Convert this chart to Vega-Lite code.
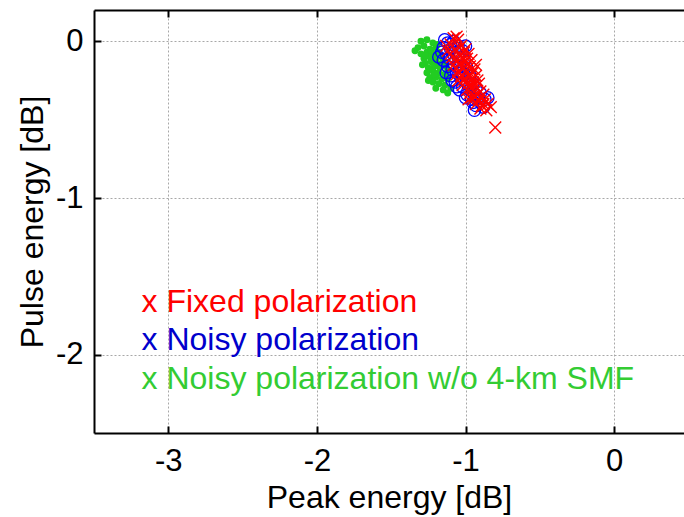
{
  "$schema": "https://vega.github.io/schema/vega-lite/v6.json",
  "width": 590,
  "height": 423,
  "autosize": {"type": "none"},
  "padding": {"left": 94, "top": 10, "right": 0, "bottom": 84},
  "config": {
    "view": {"stroke": null},
    "font": "Liberation Sans",
    "axis": {
      "domainColor": "black", "domainWidth": 2,
      "tickColor": "black", "tickWidth": 2, "tickSize": -7,
      "gridColor": "#a8a8a8", "gridDash": [2, 2], "gridWidth": 1,
      "labelFont": "Liberation Sans", "labelFontSize": 31, "labelColor": "black",
      "labelExpr": "toString(datum.value)",
      "titleFont": "Liberation Sans", "titleFontSize": 32, "titleColor": "black", "titleFontWeight": "normal"
    }
  },
  "datasets": {
    "nosmf": [
      {"peak": -1.3, "pulse": 0.0}, {"peak": -1.26, "pulse": 0.01}, {"peak": -1.22, "pulse": -0.01}, {"peak": -1.32, "pulse": -0.04},
      {"peak": -1.28, "pulse": -0.03}, {"peak": -1.24, "pulse": -0.05}, {"peak": -1.2, "pulse": -0.04}, {"peak": -1.3, "pulse": -0.08},
      {"peak": -1.26, "pulse": -0.07}, {"peak": -1.22, "pulse": -0.08}, {"peak": -1.18, "pulse": -0.07}, {"peak": -1.28, "pulse": -0.11},
      {"peak": -1.24, "pulse": -0.1}, {"peak": -1.2, "pulse": -0.11}, {"peak": -1.16, "pulse": -0.1}, {"peak": -1.27, "pulse": -0.14},
      {"peak": -1.23, "pulse": -0.13}, {"peak": -1.19, "pulse": -0.14}, {"peak": -1.15, "pulse": -0.13}, {"peak": -1.25, "pulse": -0.17},
      {"peak": -1.21, "pulse": -0.16}, {"peak": -1.17, "pulse": -0.17}, {"peak": -1.13, "pulse": -0.16}, {"peak": -1.26, "pulse": -0.2},
      {"peak": -1.22, "pulse": -0.19}, {"peak": -1.18, "pulse": -0.2}, {"peak": -1.14, "pulse": -0.21}, {"peak": -1.24, "pulse": -0.23},
      {"peak": -1.2, "pulse": -0.23}, {"peak": -1.16, "pulse": -0.24}, {"peak": -1.12, "pulse": -0.24}, {"peak": -1.22, "pulse": -0.26},
      {"peak": -1.18, "pulse": -0.27}, {"peak": -1.14, "pulse": -0.28}, {"peak": -1.2, "pulse": -0.3}, {"peak": -1.15, "pulse": -0.31},
      {"peak": -1.1, "pulse": -0.3}, {"peak": -1.23, "pulse": -0.12}, {"peak": -1.21, "pulse": -0.21}, {"peak": -1.29, "pulse": -0.15},
      {"peak": -1.25, "pulse": -0.25}, {"peak": -1.17, "pulse": -0.09}, {"peak": -1.34, "pulse": -0.06}, {"peak": -1.19, "pulse": -0.02},
      {"peak": -1.12, "pulse": -0.19}, {"peak": -1.27, "pulse": -0.09}, {"peak": -1.23, "pulse": -0.06}, {"peak": -1.16, "pulse": -0.15},
      {"peak": -1.12, "pulse": -0.33}
    ],
    "noisy": [
      {"peak": -1.14, "pulse": 0.01}, {"peak": -1.12, "pulse": -0.01}, {"peak": -1.08, "pulse": 0.0}, {"peak": -1.15, "pulse": -0.04},
      {"peak": -1.1, "pulse": -0.05}, {"peak": -1.05, "pulse": -0.03}, {"peak": -1.13, "pulse": -0.08}, {"peak": -1.07, "pulse": -0.07},
      {"peak": -1.02, "pulse": -0.06}, {"peak": -1.11, "pulse": -0.11}, {"peak": -1.05, "pulse": -0.1}, {"peak": -1.15, "pulse": -0.12},
      {"peak": -1.08, "pulse": -0.14}, {"peak": -1.01, "pulse": -0.12}, {"peak": -1.12, "pulse": -0.16}, {"peak": -1.04, "pulse": -0.16},
      {"peak": -1.09, "pulse": -0.18}, {"peak": -0.99, "pulse": -0.17}, {"peak": -1.06, "pulse": -0.2}, {"peak": -1.01, "pulse": -0.21},
      {"peak": -1.1, "pulse": -0.22}, {"peak": -1.03, "pulse": -0.24}, {"peak": -0.97, "pulse": -0.22}, {"peak": -1.07, "pulse": -0.26},
      {"peak": -0.99, "pulse": -0.26}, {"peak": -1.02, "pulse": -0.29}, {"peak": -0.95, "pulse": -0.27}, {"peak": -1.04, "pulse": -0.31},
      {"peak": -0.97, "pulse": -0.31}, {"peak": -0.93, "pulse": -0.3}, {"peak": -0.99, "pulse": -0.34}, {"peak": -0.94, "pulse": -0.34},
      {"peak": -0.9, "pulse": -0.33}, {"peak": -0.96, "pulse": -0.37}, {"peak": -0.91, "pulse": -0.38}, {"peak": -0.87, "pulse": -0.37},
      {"peak": -0.93, "pulse": -0.41}, {"peak": -0.88, "pulse": -0.42}, {"peak": -1.13, "pulse": -0.2}, {"peak": -1.09, "pulse": -0.25},
      {"peak": -1.06, "pulse": -0.29}, {"peak": -1.0, "pulse": -0.36}, {"peak": -0.94, "pulse": -0.44}, {"peak": -1.1, "pulse": -0.02},
      {"peak": -1.16, "pulse": -0.07}, {"peak": -1.04, "pulse": -0.19}, {"peak": -0.95, "pulse": -0.39}, {"peak": -0.85, "pulse": -0.36},
      {"peak": -1.18, "pulse": -0.1}, {"peak": -1.0, "pulse": -0.03}
    ],
    "fixed": [
      {"peak": -1.08, "pulse": 0.02}, {"peak": -1.05, "pulse": 0.01}, {"peak": -1.1, "pulse": -0.02}, {"peak": -1.03, "pulse": -0.03},
      {"peak": -1.07, "pulse": -0.05}, {"peak": -1.12, "pulse": -0.06}, {"peak": -1.0, "pulse": -0.05}, {"peak": -1.05, "pulse": -0.08},
      {"peak": -1.09, "pulse": -0.1}, {"peak": -1.02, "pulse": -0.1}, {"peak": -0.98, "pulse": -0.08}, {"peak": -1.06, "pulse": -0.12},
      {"peak": -1.0, "pulse": -0.13}, {"peak": -1.04, "pulse": -0.15}, {"peak": -0.96, "pulse": -0.12}, {"peak": -1.08, "pulse": -0.15},
      {"peak": -1.01, "pulse": -0.17}, {"peak": -0.97, "pulse": -0.16}, {"peak": -1.05, "pulse": -0.19}, {"peak": -0.99, "pulse": -0.2},
      {"peak": -0.94, "pulse": -0.18}, {"peak": -1.03, "pulse": -0.22}, {"peak": -0.97, "pulse": -0.22}, {"peak": -1.0, "pulse": -0.24},
      {"peak": -0.93, "pulse": -0.22}, {"peak": -1.05, "pulse": -0.25}, {"peak": -0.98, "pulse": -0.27}, {"peak": -0.95, "pulse": -0.26},
      {"peak": -1.02, "pulse": -0.28}, {"peak": -0.91, "pulse": -0.27}, {"peak": -0.96, "pulse": -0.3}, {"peak": -0.99, "pulse": -0.31},
      {"peak": -0.93, "pulse": -0.31}, {"peak": -0.97, "pulse": -0.33}, {"peak": -0.9, "pulse": -0.32}, {"peak": -0.94, "pulse": -0.35},
      {"peak": -0.88, "pulse": -0.34}, {"peak": -0.95, "pulse": -0.37}, {"peak": -0.91, "pulse": -0.38}, {"peak": -0.87, "pulse": -0.37},
      {"peak": -0.93, "pulse": -0.4}, {"peak": -0.89, "pulse": -0.41}, {"peak": -0.85, "pulse": -0.4}, {"peak": -0.9, "pulse": -0.43},
      {"peak": -0.86, "pulse": -0.44}, {"peak": -0.83, "pulse": -0.42}, {"peak": -0.8, "pulse": -0.55}, {"peak": -1.1, "pulse": -0.08},
      {"peak": -1.07, "pulse": -0.11}, {"peak": -1.01, "pulse": -0.07}, {"peak": -0.99, "pulse": -0.11}, {"peak": -1.03, "pulse": -0.13},
      {"peak": -0.95, "pulse": -0.2}, {"peak": -1.0, "pulse": -0.19}, {"peak": -0.96, "pulse": -0.24}, {"peak": -0.92, "pulse": -0.25},
      {"peak": -1.02, "pulse": -0.25}, {"peak": -0.97, "pulse": -0.29}, {"peak": -0.94, "pulse": -0.28}, {"peak": -0.92, "pulse": -0.34},
      {"peak": -0.9, "pulse": -0.36}, {"peak": -0.96, "pulse": -0.36}, {"peak": -0.88, "pulse": -0.4}, {"peak": -1.04, "pulse": -0.04},
      {"peak": -1.13, "pulse": -0.03}, {"peak": -1.06, "pulse": 0.03}, {"peak": -0.99, "pulse": -0.15}, {"peak": -0.93, "pulse": -0.15},
      {"peak": -1.06, "pulse": -0.21}, {"peak": -0.98, "pulse": -0.37}
    ],
    "legend": [
      {"series": "Fixed polarization", "label": "x Fixed polarization", "peak": -3.18, "pulse": -1.728},
      {"series": "Noisy polarization", "label": "x Noisy polarization", "peak": -3.18, "pulse": -1.973},
      {"series": "Noisy polarization w/o 4-km SMF", "label": "x Noisy polarization w/o 4-km SMF", "peak": -3.18, "pulse": -2.219}
    ]
  },
  "resolve": {"axis": {"x": "independent", "y": "independent"}},
  "layer": [
    {
      "data": {"name": "nosmf"},
      "mark": {"type": "point", "shape": "circle", "filled": true, "size": 48, "color": "#22cc22", "opacity": 1},
      "encoding": {
        "x": {"field": "peak", "type": "quantitative", "scale": {"domain": [-3.5, 0.47], "nice": false, "zero": false},
              "axis": {"orient": "bottom", "values": [-3, -2, -1, 0], "title": "Peak energy [dB]", "labelPadding": 20, "titlePadding": 6}},
        "y": {"field": "pulse", "type": "quantitative", "scale": {"domain": [-2.5, 0.2], "nice": false, "zero": false},
              "axis": {"orient": "left", "values": [-2, -1, 0], "title": "Pulse energy [dB]", "labelPadding": 18, "titlePadding": 6}}
      }
    },
    {
      "data": {"name": "noisy"},
      "mark": {"type": "point", "shape": "circle", "filled": false, "size": 150, "color": "#0000ff", "strokeWidth": 1.3, "opacity": 1},
      "encoding": {
        "x": {"field": "peak", "type": "quantitative", "axis": null},
        "y": {"field": "pulse", "type": "quantitative", "axis": null}
      }
    },
    {
      "data": {"name": "fixed"},
      "mark": {"type": "point", "shape": "M-1,-1L1,1M-1,1L1,-1", "filled": false, "size": 140, "color": "#ff0000", "strokeWidth": 1.4, "opacity": 1},
      "encoding": {
        "x": {"field": "peak", "type": "quantitative",
              "axis": {"orient": "top", "values": [-3, -2, -1, 0], "labels": false, "title": null, "grid": false}},
        "y": {"field": "pulse", "type": "quantitative", "axis": null}
      }
    },
    {
      "data": {"name": "legend"},
      "mark": {"type": "text", "align": "left", "baseline": "alphabetic", "fontSize": 32, "font": "Liberation Sans"},
      "encoding": {
        "x": {"field": "peak", "type": "quantitative", "axis": null},
        "y": {"field": "pulse", "type": "quantitative", "axis": null},
        "text": {"field": "label"},
        "color": {"field": "series", "type": "nominal", "legend": null,
                  "scale": {"domain": ["Fixed polarization", "Noisy polarization", "Noisy polarization w/o 4-km SMF"], "range": ["#ff0000", "#0000cc", "#33cc33"]}}
      }
    }
  ]
}
